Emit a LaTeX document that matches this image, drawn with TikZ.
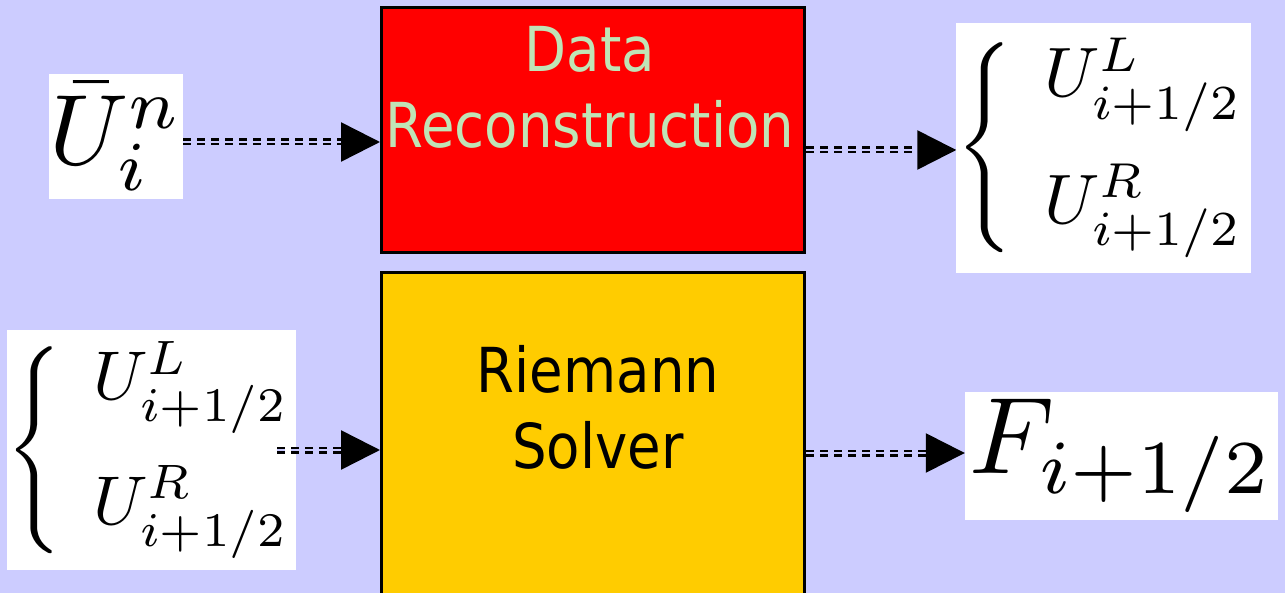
\documentclass[tikz,border=0pt]{standalone}
\usepackage{fontspec}
\newfontfamily\boxfont[FakeStretch=0.88]{DejaVu Sans}
\usetikzlibrary{arrows.meta}
\definecolor{lavender}{RGB}{204,204,255}
\definecolor{mintgreen}{RGB}{192,228,182}
\definecolor{amber}{RGB}{255,204,0}
\tikzset{
  stage/.style={draw=black, line width=3pt, minimum width=423pt, inner sep=0pt},
  stagetext/.style={font=\boxfont\fontsize{62}{76}\selectfont, align=center, anchor=north, inner sep=0pt},
  mathbox/.style={fill=white, inner sep=0pt},
  flow/.style={dash pattern=on 8pt off 6pt, line width=2.5pt, double=lavender, double distance=2pt,
    -{Triangle[length=39pt,width=39pt]}}
}
\newcommand{\halfstates}{$\left\{\hspace{4.5pt}\begin{array}{@{}l@{}}U^L_{i+1/2}\\[6pt]U^R_{i+1/2}\end{array}\right.$}

\begin{document}
\begin{tikzpicture}[x=1pt,y=-1pt]
\useasboundingbox (0,0) rectangle (1285,593);
\fill[lavender] (0,0) rectangle (1285,593);

% the two stages
\node[stage, fill=red, minimum height=245pt] (recon) at (593,130.5) {};
\node[stagetext, text=mintgreen] (recontext) at (590,26) {Data\\Reconstruction};
\node[stage, fill=amber, minimum height=337pt] (solver) at (593,441.5) {};
\node[stagetext] (solvertext) at (598,345) {Riemann\\Solver};

% inputs and outputs
\node[mathbox, minimum width=134pt, minimum height=125pt] (ubar) at (116,136.5) {\scalebox{10}{$\bar U^n_i$}};
\node[mathbox, minimum width=293pt, minimum height=250pt] (rstates) at (1103.5,148) {\scalebox{7}{\halfstates}};
\node[mathbox, minimum width=287pt, minimum height=240pt] (lstates) at (151.5,450) {\scalebox{6.9}{\halfstates}};
\node[mathbox, minimum width=313pt, minimum height=128pt] (fout) at (1121.5,456) {\scalebox{10.9}{$F_{i+1/2}$}};

% connectors
\coordinate (split) at (277,450);
\draw[flow] (ubar.east |- 0,142) -- (recon.west |- 0,142);
\draw[flow] (recon.east |- 0,150) -- (rstates.west |- 0,150);
\draw[flow] (split) -- (solver.west |- split);
\draw[flow] (solver.east |- 0,453) -- (fout.west |- 0,453);
\end{tikzpicture}
\end{document}
